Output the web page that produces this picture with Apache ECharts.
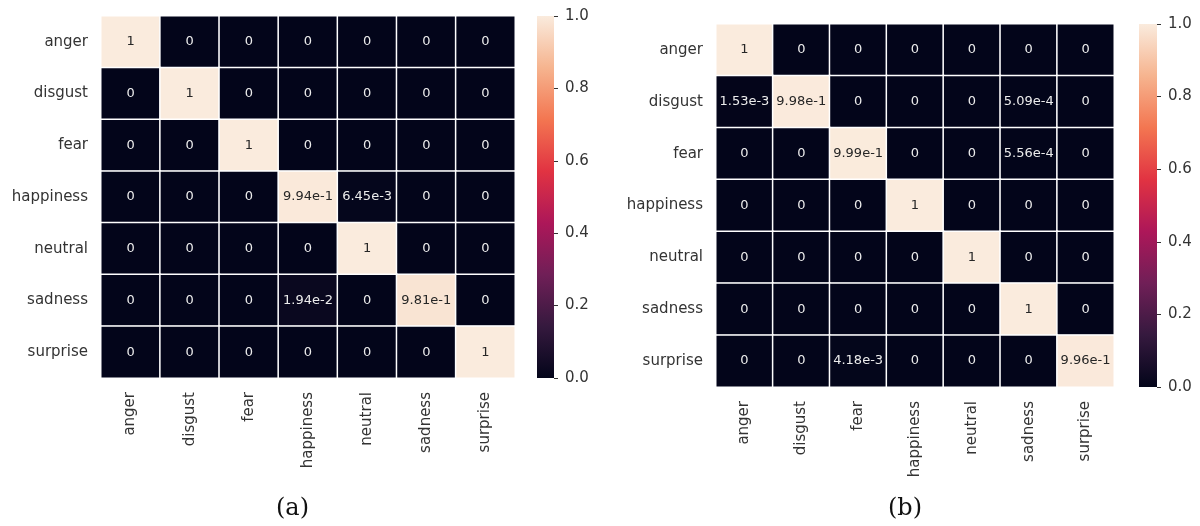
<!DOCTYPE html>
<html>
<head>
<meta charset="utf-8">
<script src="https://cdn.jsdelivr.net/npm/echarts@6/dist/echarts.min.js"></script>
<style>html,body{margin:0;padding:0;background:#fff}#c{width:1200px;height:526px}</style>
</head>
<body>
<div id="c"></div>
<script>
var categories = ['anger','disgust','fear','happiness','neutral','sadness','surprise'];
// rows = y categories (top to bottom), columns = x categories
var matrixA = [
  [1,0,0,0,0,0,0],
  [0,1,0,0,0,0,0],
  [0,0,1,0,0,0,0],
  [0,0,0,0.994,0.00645,0,0],
  [0,0,0,0,1,0,0],
  [0,0,0,0.0194,0,0.981,0],
  [0,0,0,0,0,0,1]
];
var matrixB = [
  [1,0,0,0,0,0,0],
  [0.00153,0.998,0,0,0,0.000509,0],
  [0,0,0.999,0,0,0.000556,0],
  [0,0,0,1,0,0,0],
  [0,0,0,0,1,0,0],
  [0,0,0,0,0,1,0],
  [0,0,0.00418,0,0,0,0.996]
];
var colorbarTicks = [0, 0.2, 0.4, 0.6, 0.8, 1.0];
var panelLabels = ['(a)', '(b)'];
var rocket = ['#03051A','#35193E','#701F57','#AD1759','#E13342','#F37651','#F6B48F','#FAEBDD'];

function fmt(v){
  if (v === 0) return '0';
  if (v === 1) return '1';
  return v.toExponential(2);
}
function build(m){
  var out = [];
  for (var r = 0; r < m.length; r++) {
    for (var c = 0; c < m[r].length; c++) {
      var v = m[r][c];
      out.push({value:[c, r, v], label:{color: v > 0.5 ? '#262626' : '#ececec'}});
    }
  }
  return out;
}

var FONT = 'DejaVu Sans';
var gridsPos = [
  {left:101, top:16, width:414, height:362},
  {left:716, top:24, width:398, height:363},
  {left:537, top:16, width:17, height:362},
  {left:1139, top:24, width:18, height:363}
];
var cbMin = colorbarTicks[0], cbMax = colorbarTicks[colorbarTicks.length-1];

function catX(gi){
  return {type:'category', gridIndex:gi, data:categories,
    axisLine:{show:false}, axisTick:{show:false}, splitArea:{show:false},
    axisLabel:{rotate:90, margin:14, fontSize:15, color:'#333', fontFamily:FONT, interval:0}};
}
function catY(gi){
  return {type:'category', gridIndex:gi, data:categories, inverse:true,
    axisLine:{show:false}, axisTick:{show:false}, splitArea:{show:false},
    axisLabel:{margin:13, fontSize:15, color:'#333', fontFamily:FONT, interval:0}};
}
function cbX(gi){
  return {type:'category', gridIndex:gi, show:false, data:['colorbar']};
}
function cbY(gi){
  return {type:'value', gridIndex:gi, position:'right', min:cbMin, max:cbMax, interval:0.2,
    axisLine:{show:false}, splitLine:{show:false},
    axisTick:{show:true, length:4, lineStyle:{color:'#333', width:1}},
    axisLabel:{margin:11, fontSize:15, color:'#333', fontFamily:FONT, formatter:function(v){return v.toFixed(1);}}};
}
function vm(si){
  return {type:'continuous', seriesIndex:si, min:cbMin, max:cbMax, show:false, inRange:{color:rocket}};
}
function hm(xi, yi, m){
  return {type:'heatmap', xAxisIndex:xi, yAxisIndex:yi, data:build(m),
    itemStyle:{borderColor:'#ffffff', borderWidth:1.5},
    emphasis:{disabled:true},
    label:{show:true, fontSize:13, fontFamily:FONT, formatter:function(p){return fmt(p.value[2]);}}};
}
function colorbar(ai){
  var stops = rocket.map(function(c, i){ return {offset: i/(rocket.length-1), color: c}; });
  return {type:'bar', xAxisIndex:ai, yAxisIndex:ai, data:[cbMax], barWidth:'100%', silent:true,
    itemStyle:{color: new echarts.graphic.LinearGradient(0, 1, 0, 0, stops)}};
}

var chart = echarts.init(document.getElementById('c'), null, {renderer:'canvas'});
chart.setOption({
  animation:false,
  backgroundColor:'#ffffff',
  title:[
    {text:panelLabels[0], left:276, top:497, padding:0, textStyle:{fontFamily:'DejaVu Serif', fontWeight:'normal', fontSize:24, color:'#111'}},
    {text:panelLabels[1], left:888, top:497, padding:0, textStyle:{fontFamily:'DejaVu Serif', fontWeight:'normal', fontSize:24, color:'#111'}}
  ],
  grid: gridsPos.map(function(g){return {left:g.left, top:g.top, width:g.width, height:g.height, containLabel:false};}),
  xAxis:[catX(0), catX(1), cbX(2), cbX(3)],
  yAxis:[catY(0), catY(1), cbY(2), cbY(3)],
  visualMap:[vm(0), vm(1)],
  series:[hm(0,0,matrixA), hm(1,1,matrixB), colorbar(2), colorbar(3)]
});
</script>
</body>
</html>
